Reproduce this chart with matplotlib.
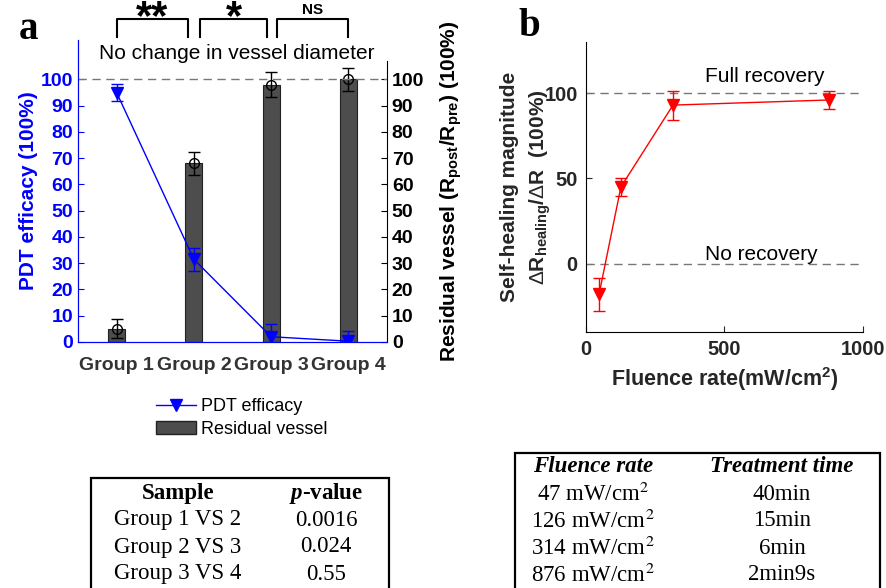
import numpy as np
import matplotlib.pyplot as plt
from matplotlib.patches import Rectangle, Patch
from matplotlib.lines import Line2D

# panel a data
groups = ['Group 1', 'Group 2', 'Group 3', 'Group 4']
pdt_efficacy = [95, 31.5, 2, 0.3]
pdt_err = [3.3, 4.3, 4.7, 4.0]
residual = [5, 68, 98, 100]
residual_err = [3.6, 4.3, 4.7, 4.3]
sig_labels = ['**', '*', 'NS']

# panel b data
fluence = [47, 126, 314, 876]
healing = [-18, 45, 93, 96]
healing_err = [9.5, 5, 8.5, 5.5]

# tables
p_rows = [('Group 1 VS 2', '0.0016'), ('Group 2 VS 3', '0.024'), ('Group 3 VS 4', '0.55')]
f_rows = [('47', '40min'), ('126', '15min'), ('314', '6min'), ('876', '2min9s')]

plt.rcParams['font.family'] = ['Arial', 'Liberation Sans', 'DejaVu Sans']
plt.rcParams['mathtext.fontset'] = 'custom'
plt.rcParams['mathtext.rm'] = 'Liberation Sans'
plt.rcParams['mathtext.bf'] = 'Liberation Sans:bold'
plt.rcParams['mathtext.it'] = 'Liberation Sans:italic'
plt.rcParams['mathtext.bfit'] = 'Liberation Serif:italic:bold'

fig = plt.figure(figsize=(8.86, 5.88), dpi=100)
blue = (0, 0, 1)

# ---------- panel a ----------
ax = fig.add_axes([0.088, 0.4184, 0.3488, 0.5136])
x = np.arange(1, 5)
ax2 = ax.twinx()
ax.set_zorder(ax2.get_zorder() + 1)
ax.patch.set_visible(False)

ax2.bar(x, residual, width=0.22, color='#4d4d4d', edgecolor='#222222', linewidth=0.8)
ax2.errorbar(x, residual, yerr=residual_err, fmt='o', mfc='none', mec='black',
             ecolor='black', color='black', capsize=4, ms=7, lw=1)
ax2.set_ylim(0, 115)
ax2.set_yticks(range(0, 101, 10))
ax2.tick_params(axis='y', direction='in', length=4, labelsize=14, colors='black')
for t in ax2.get_yticklabels():
    t.set_fontweight('bold')
ax2.set_ylabel('Residual vessel (R$_{\\mathbf{post}}$/R$_{\\mathbf{pre}}$) (100%)',
               fontsize=15, fontweight='bold', labelpad=10)

ax.errorbar(x, pdt_efficacy, yerr=pdt_err, color=blue, marker='v', ms=9,
            lw=1, capsize=4, elinewidth=1)
ax.axhline(100, color='#777777', ls=(0, (6, 4)), lw=1)
ax.set_xlim(0.5, 4.5)
ax.set_ylim(0, 115)
ax.set_yticks(range(0, 101, 10))
ax.set_xticks(x)
ax.set_xticklabels(groups, fontsize=14, fontweight='bold', color='#333333')
ax.tick_params(axis='x', length=0, pad=11)
ax.tick_params(axis='y', direction='in', length=4, labelsize=14, colors=blue)
for t in ax.get_yticklabels():
    t.set_fontweight('bold')
ax.set_ylabel('PDT efficacy (100%)', fontsize=15, fontweight='bold', color=blue, labelpad=2)

for a in (ax, ax2):
    a.spines['top'].set_visible(False)
    a.spines['left'].set_color(blue)
    a.spines['bottom'].set_color(blue)
    a.spines['right'].set_color('black')
ax.spines['right'].set_visible(False)
ax2.spines['right'].set_bounds(0, 107)

ax.text(2.55, 110, 'No change in vessel diameter', ha='center', va='center', fontsize=15,
        bbox=dict(facecolor='white', edgecolor='none', pad=2), zorder=5)

# significance brackets
brackets = [(1.0, 1.92), (2.08, 2.95), (3.08, 4.0)]
for (x0, x1), lab in zip(brackets, sig_labels):
    ax.plot([x0, x0, x1, x1], [116, 123, 123, 116], color='black', lw=1.5, clip_on=False)
    if lab == 'NS':
        ax.text((x0 + x1) / 2, 126.5, lab, ha='center', va='center', fontsize=11, fontweight='bold')
    else:
        ax.text((x0 + x1) / 2, 131, lab, ha='center', va='top', fontsize=30, fontweight='bold')

fig.text(0.032, 0.95, 'a', fontsize=28, fontweight='bold', family='Liberation Serif',
         ha='center', va='center')

handles = [Line2D([], [], color=blue, marker='v', ms=8, lw=1),
           Patch(facecolor='#4d4d4d', edgecolor='#222222')]
fig.legend(handles, ['PDT efficacy', 'Residual vessel'], loc='upper left',
           bbox_to_anchor=(0.158, 0.35), frameon=False, fontsize=13,
           handlelength=2.2, handletextpad=0.3, labelspacing=0.3)

# ---------- panel b ----------
bx = fig.add_axes([0.6614, 0.4354, 0.3126, 0.4932])
bx.axhline(100, color='#777777', ls=(0, (6, 4)), lw=1)
bx.axhline(0, color='#777777', ls=(0, (6, 4)), lw=1)
bx.errorbar(fluence, healing, yerr=healing_err, color='red', marker='v', ms=9,
            lw=1, capsize=4, elinewidth=1)
bx.set_xlim(0, 1000)
bx.set_ylim(-40, 130)
bx.set_xticks([0, 500, 1000])
bx.set_yticks([0, 50, 100])
bx.tick_params(direction='in', length=4, labelsize=14.5, colors='#262626', pad=6)
for t in bx.get_xticklabels() + bx.get_yticklabels():
    t.set_fontweight('bold')
bx.spines['top'].set_visible(False)
bx.spines['right'].set_visible(False)
bx.set_xlabel('Fluence rate(mW/cm$^{\\mathbf{2}}$)', fontsize=15.5, fontweight='bold', color='#262626')
bx.set_ylabel('Self-healing magnitude\n$\\Delta$R$_{\\mathbf{healing}}$/$\\Delta$R  (100%)',
              fontsize=15, fontweight='bold', color='#262626', labelpad=-6, linespacing=1.45)
bx.text(430, 110, 'Full recovery', fontsize=15, ha='left', va='center')
bx.text(430, 5.5, 'No recovery', fontsize=15, ha='left', va='center')
fig.text(0.597, 0.955, 'b', fontsize=28, fontweight='bold', family='Liberation Serif',
         ha='center', va='center')

# ---------- tables ----------
W, H = 886.0, 588.0
fig.patches.append(Rectangle((91 / W, -0.05), (389 - 91) / W, 0.05 + (588 - 478) / H,
                             transform=fig.transFigure, fill=False, lw=1.6, ec='black'))
serif = 'Liberation Serif'
fig.text(178 / W, 1 - 494 / H, 'Sample', ha='center', va='center', fontsize=16.5,
         fontweight='bold', family=serif)
fig.text(326 / W, 1 - 494 / H, '$\\mathbfit{p}$-value', ha='center', va='center', fontsize=16.5,
         fontweight='bold', family=serif)
for i, (s, p) in enumerate(p_rows):
    yy = 1 - (520 + 27 * i) / H
    fig.text(178 / W, yy, s, ha='center', va='center', fontsize=16.5, family=serif)
    fig.text(326 / W, yy, p, ha='center', va='center', fontsize=16.5, family=serif)

fig.patches.append(Rectangle((515 / W, -0.05), (880 - 515) / W, 0.05 + (588 - 453) / H,
                             transform=fig.transFigure, fill=False, lw=1.6, ec='black'))
fig.text(593 / W, 1 - 467 / H, 'Fluence rate', ha='center', va='center', fontsize=16.5,
         fontweight='bold', style='italic', family=serif)
fig.text(782 / W, 1 - 467 / H, 'Treatment time', ha='center', va='center', fontsize=16.5,
         fontweight='bold', style='italic', family=serif)
for i, (f, t) in enumerate(f_rows):
    yy = 1 - (494 + 27 * i) / H
    fig.text(593 / W, yy, f + ' mW/cm$^2$', ha='center', va='center', fontsize=16.5, family=serif,
             math_fontfamily='stix')
    fig.text(782 / W, yy, t, ha='center', va='center', fontsize=16.5, family=serif)

fig.savefig('out.png', dpi=100)
